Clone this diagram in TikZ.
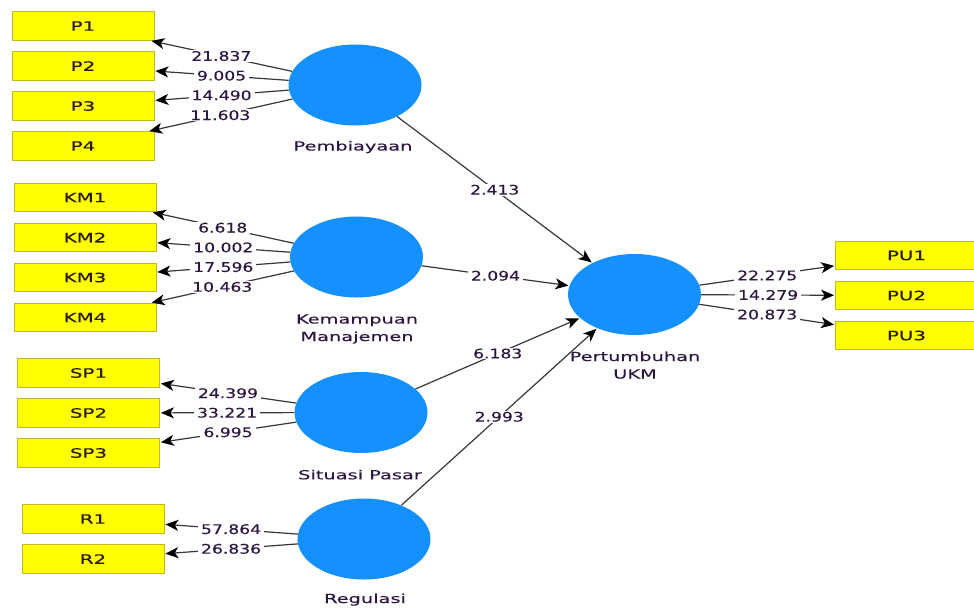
\documentclass[tikz,border=0pt]{standalone}
\usepackage{fontspec}
\newfontfamily\namefont[FakeStretch=1.55,FakeBold=0.3]{DejaVu Sans}
\newfontfamily\numfont[FakeStretch=1.3,FakeBold=0.3]{DejaVu Sans}
\usetikzlibrary{shapes.geometric,arrows.meta}
\definecolor{lvblue}{RGB}{21,145,255}
\definecolor{indyel}{RGB}{255,255,0}
\definecolor{indborder}{RGB}{195,185,40}
\definecolor{txt}{RGB}{45,22,65}
\definecolor{boxtxt}{RGB}{40,26,16}
\definecolor{conncol}{RGB}{55,55,55}
\begin{document}
\begin{tikzpicture}[x=1pt,y=-1pt,
  latent/.style={ellipse, fill=lvblue, draw=none, minimum width=133pt, minimum height=81pt, inner sep=0pt},
  indicator/.style={rectangle, fill=indyel, draw=indborder, line width=0.8pt, minimum width=142pt, minimum height=28.5pt, inner sep=0pt, font=\namefont\fontsize{12.8}{15}\selectfont, text=boxtxt},
  lvlabel/.style={font=\namefont\fontsize{12.5}{17.5}\selectfont, text=txt, align=center, inner sep=0pt, anchor=base},
  conn/.style={draw=conncol, line width=1.2pt, shorten >=1pt, -{Stealth[length=13pt,width=11pt,inset=3.5pt,color=black]}},
  num/.style={fill=white, font=\numfont\fontsize{13.2}{15}\selectfont, text=txt, inner xsep=3pt, inner ysep=1pt, midway}
]
\useasboundingbox (0,0) rectangle (974,608);

% latent variables
\node[latent] (PB) at (355,85) {};
\node[latent] (KM) at (356.5,257) {};
\node[latent] (SP) at (361,412.5) {};
\node[latent] (RG) at (364,539) {};
\node[latent] (PU) at (634.5,294.5) {};

\node[lvlabel] (PBl) at (353,150.5) {Pembiayaan};
\node[lvlabel] (KMl) at (357,341) {Kemampuan\\Manajemen};
\node[lvlabel] (SPl) at (360,479.3) {Situasi Pasar};
\node[lvlabel] (RGl) at (365,603) {Regulasi};
\node[lvlabel] (PUl) at (635,378.5) {Pertumbuhan\\UKM};

% indicators
\node[indicator] (P1) at (83,26) {P1};
\node[indicator] (P2) at (83,66) {P2};
\node[indicator] (P3) at (83,106) {P3};
\node[indicator] (P4) at (83,146) {P4};

\node[indicator] (KM1) at (85,197.5) {KM1};
\node[indicator] (KM2) at (85,237.5) {KM2};
\node[indicator] (KM3) at (85,277.5) {KM3};
\node[indicator] (KM4) at (85,317.5) {KM4};

\node[indicator] (SP1) at (88.5,373) {SP1};
\node[indicator] (SP2) at (88.5,413) {SP2};
\node[indicator] (SP3) at (88.5,453) {SP3};

\node[indicator] (R1) at (93,519) {R1};
\node[indicator] (R2) at (93,559) {R2};

\node[indicator] (PU1) at (906.5,255.5) {PU1};
\node[indicator] (PU2) at (906.5,295.5) {PU2};
\node[indicator] (PU3) at (906.5,335.5) {PU3};

% outer loadings
\draw[conn] (PB) -- node[num] {21.837} (P1);
\draw[conn] (PB) -- node[num] {9.005} (P2);
\draw[conn] (PB) -- node[num] {14.490} (P3);
\draw[conn] (PB) -- node[num] {11.603} (P4);

\draw[conn] (KM) -- node[num] {6.618} (KM1);
\draw[conn] (KM) -- node[num] {10.002} (KM2);
\draw[conn] (KM) -- node[num] {17.596} (KM3);
\draw[conn] (KM) -- node[num] {10.463} (KM4);

\draw[conn] (SP) -- node[num] {24.399} (SP1);
\draw[conn] (SP) -- node[num] {33.221} (SP2);
\draw[conn] (SP) -- node[num] {6.995} (SP3);

\draw[conn] (RG) -- node[num] {57.864} (R1);
\draw[conn] (RG) -- node[num] {26.836} (R2);

\draw[conn] (PU) -- node[num] {22.275} (PU1);
\draw[conn] (PU) -- node[num] {14.279} (PU2);
\draw[conn] (PU) -- node[num] {20.873} (PU3);

% structural paths
\draw[conn] (PB) -- node[num] {2.413} (PU);
\draw[conn] (KM) -- node[num] {2.094} (PU);
\draw[conn] (SP) -- node[num] {6.183} (PU);
\draw[conn] (RG) -- node[num] {2.993} (PU);
\end{tikzpicture}
\end{document}
